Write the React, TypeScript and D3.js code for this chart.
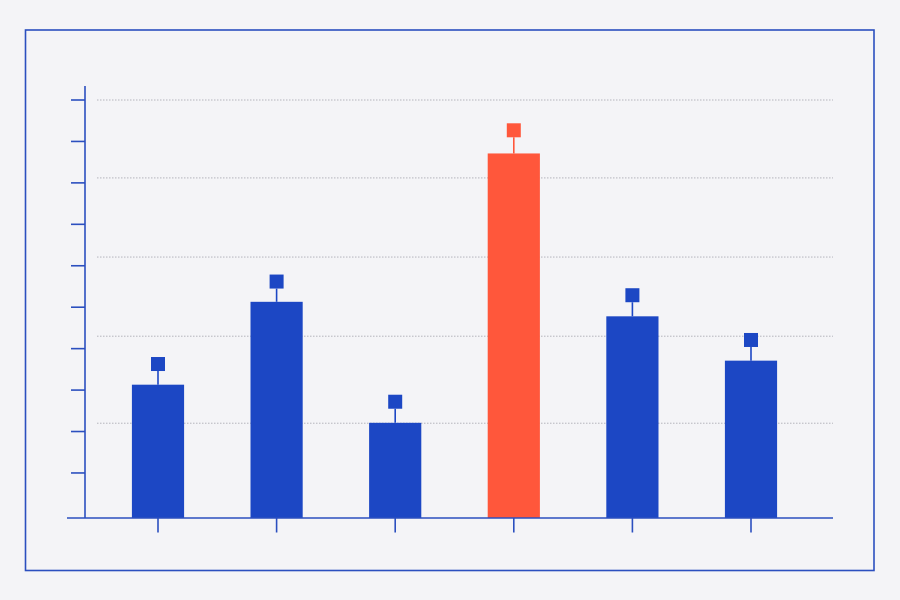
import React from 'react';
import * as d3 from 'd3';

const categories = ['A', 'B', 'C', 'D', 'E', 'F'];
const values = [3.13, 5.13, 2.21, 8.71, 4.78, 3.71];
const upper = [3.46, 5.45, 2.55, 9.1, 5.12, 4.04];
const highlight = ['D'];
const tickValues = [1, 2, 3, 4, 5, 6, 7, 8, 9, 10];
const gridValues = [10, 8.12, 6.21, 4.3, 2.2];

const BLUE = '#1c47c4';
const RED = '#ff573b';
const AXIS = '#2b4fbf';

const App = () => {
  const width = 900;
  const height = 600;
  const baseline = 518;

  const xScale = d3.scaleBand()
    .domain(categories)
    .range([98.7, 810.3])
    .paddingInner(0.56)
    .paddingOuter(0.28);

  const yScale = d3.scaleLinear()
    .domain([0, 10])
    .range([514.4, 100]);

  const bw = xScale.bandwidth();
  const sq = 14;

  return (
    <svg width={width} height={height} style={{ position: 'fixed', left: 0, top: 0, background: '#f4f4f7' }}>
      <rect x={0} y={0} width={width} height={height} fill="#f4f4f7" />
      {/* frame */}
      <rect x={25.5} y={30} width={848.5} height={540.5} fill="none" stroke={AXIS} strokeWidth={1.6} />

      {/* dotted grid */}
      {gridValues.map((g, i) => (
        <line key={'g' + i} x1={97} x2={833} y1={yScale(g)} y2={yScale(g)}
          stroke="#b4b4bc" strokeWidth={1} strokeDasharray="1.5,1.5" />
      ))}

      {/* y axis */}
      <line x1={85} x2={85} y1={86} y2={baseline} stroke={AXIS} strokeWidth={1.6} />
      {tickValues.map(t => (
        <line key={'t' + t} x1={71} x2={85} y1={yScale(t)} y2={yScale(t)} stroke={AXIS} strokeWidth={1.6} />
      ))}

      {/* bars with upper markers */}
      {categories.map((c, i) => {
        const x = xScale(c)!;
        const cx = x + bw / 2;
        const top = yScale(values[i]);
        const mk = yScale(upper[i]);
        const color = highlight.includes(c) ? RED : BLUE;
        return (
          <g key={c}>
            <rect x={x} y={top} width={bw} height={baseline - top} fill={color} />
            <line x1={cx} x2={cx} y1={top} y2={mk} stroke={color} strokeWidth={1.6} />
            <rect x={cx - sq / 2} y={mk - sq} width={sq} height={sq} fill={color} />
          </g>
        );
      })}

      {/* x axis */}
      <line x1={67} x2={833} y1={baseline} y2={baseline} stroke={AXIS} strokeWidth={1.6} />
      {categories.map(c => {
        const cx = xScale(c)! + bw / 2;
        return <line key={'x' + c} x1={cx} x2={cx} y1={baseline} y2={532.5} stroke={AXIS} strokeWidth={1.6} />;
      })}
    </svg>
  );
};

export default App;
